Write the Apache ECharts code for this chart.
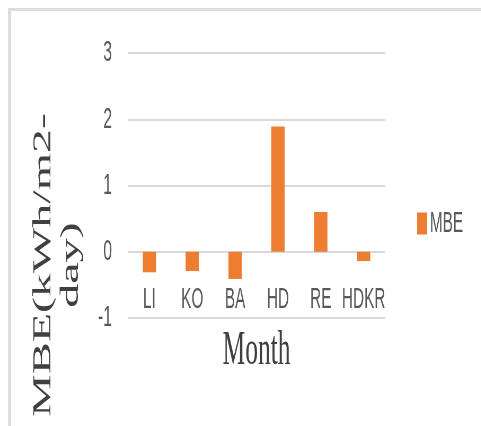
<!DOCTYPE html>
<html>
<head>
<meta charset="utf-8">
<script src="https://cdn.jsdelivr.net/npm/echarts@6/dist/echarts.min.js"></script>
<style>
  html, body { margin: 0; padding: 0; background: #ffffff; overflow: hidden; }
  #page { position: relative; width: 481px; height: 426px; overflow: hidden; background: #fff; }
  #frame {
    position: absolute; left: 8px; top: 8px; width: 600px; height: 600px;
    border-top: 3px solid #dedede; border-left: 3px solid #dedede;
  }
  /* the chart is laid out wide and then narrowed horizontally */
  #chart {
    position: absolute; left: 0; top: 0; width: 908px; height: 426px;
    transform: scaleX(0.53); transform-origin: 0 0;
  }
</style>
</head>
<body>
<div id="page">
  <div id="frame"></div>
  <div id="chart"></div>
</div>
<script>
const categories = ['LI', 'KO', 'BA', 'HD', 'RE', 'HDKR'];
const mbeValues = [-0.31, -0.29, -0.41, 1.89, 0.60, -0.14];
const yTicks = { min: -1, max: 3, interval: 1 };
const yTitle = 'MBE(kWh/m2-\nday)';

const gridTop = 53;
const gridBottom = 108;
const plotHeight = 426 - gridTop - gridBottom;
// lift the category axis from the bottom edge up to the zero line
const zeroOffset = -plotHeight * (0 - yTicks.min) / (yTicks.max - yTicks.min);

const chart = echarts.init(document.getElementById('chart'), null, { renderer: 'canvas' });

chart.setOption({
  animation: false,
  backgroundColor: 'transparent',
  grid: { left: 241.5, right: 181.5, top: gridTop, bottom: gridBottom, containLabel: false, outerBoundsMode: 'none' },
  legend: {
    data: ['MBE'],
    left: 787,
    top: 209,
    orient: 'vertical',
    padding: 0,
    itemWidth: 19,
    itemHeight: 22,
    itemGap: 0,
    icon: 'rect',
    textStyle: { fontFamily: 'Liberation Sans', fontSize: 29, color: '#595959', padding: [0, 0, 0, 0] }
  },
  xAxis: {
    type: 'category',
    data: categories,
    offset: zeroOffset,
    axisLine: { show: false, onZero: false },
    axisTick: { show: false },
    axisLabel: {
      margin: 34,
      fontFamily: 'Liberation Sans',
      fontSize: 29,
      color: '#595959',
      interval: 0
    },
    name: 'Month',
    nameLocation: 'middle',
    nameGap: 76,
    nameTextStyle: { fontFamily: 'Liberation Serif', fontSize: 48, color: '#404040' }
  },
  yAxis: {
    type: 'value',
    min: yTicks.min,
    max: yTicks.max,
    interval: yTicks.interval,
    axisLine: { show: false },
    axisTick: { show: false },
    splitLine: { lineStyle: { color: '#d9d9d9', width: 2 } },
    axisLabel: {
      margin: 30,
      fontFamily: 'Liberation Sans',
      fontSize: 30,
      color: '#595959'
    }
  },
  graphic: [{
    type: 'text',
    x: 108,
    y: 265,
    rotation: Math.PI / 2,
    style: {
      text: yTitle,
      font: '48px "Liberation Serif"',
      lineHeight: 52,
      fill: '#404040',
      align: 'center',
      verticalAlign: 'middle'
    }
  }],
  series: [{
    name: 'MBE',
    type: 'bar',
    data: mbeValues,
    barWidth: '31%',
    itemStyle: { color: '#ED7D31' }
  }]
});
</script>
</body>
</html>
